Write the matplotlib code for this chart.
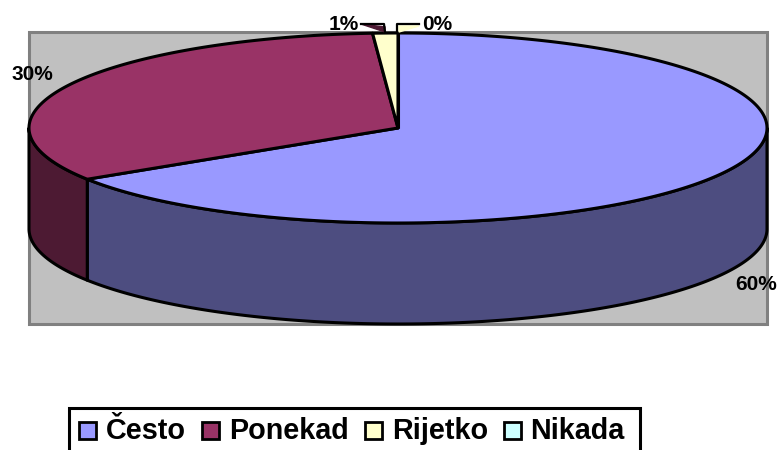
import numpy as np
import matplotlib
matplotlib.use("Agg")
import matplotlib.pyplot as plt
from matplotlib.patches import Rectangle

# Data
categories = ["Često", "Ponekad", "Rijetko", "Nikada"]
values = [60, 30, 1, 0]
labels = ["60%", "30%", "1%", "0%"]
top_colors = ["#9999FF", "#993366", "#FFFFCC", "#CCFFFF"]
side_colors = ["#4D4D80", "#4D1A33", "#808066", "#668080"]

plt.rcParams["font.family"] = ["Liberation Sans", "DejaVu Sans"]

W, H = 778, 450
fig = plt.figure(figsize=(W / 100, H / 100), dpi=100)
ax = fig.add_axes([0, 0, 1, 1])
ax.set_xlim(0, W)
ax.set_ylim(H, 0)
ax.axis("off")

# pie geometry in pixels
cx, cy, rx, ry, depth = 398, 128, 369, 95, 101


def rim(a0, a1):
    # a is clockwise from the top, in degrees
    t = np.radians(np.linspace(a0, a1, max(int(abs(a1 - a0) * 3), 2)))
    return cx + rx * np.sin(t), cy - ry * np.cos(t)


ax.add_patch(Rectangle((29, 32), 738, 292, fc="#C0C0C0", ec="#808080", lw=2.2, zorder=1))

edges = np.concatenate([[0], np.cumsum(values)]) / sum(values) * 360

# side walls, only the front half of the rim shows
for i in range(len(values)):
    a0, a1 = max(edges[i], 90), min(edges[i + 1], 270)
    if a1 <= a0:
        continue
    x, y = rim(a0, a1)
    ax.fill(np.r_[x, x[::-1]], np.r_[y, y[::-1] + depth], fc=side_colors[i],
            ec="black", lw=2.2, joinstyle="round", zorder=2)

# top slices
for i in range(len(values)):
    x, y = rim(edges[i], edges[i + 1])
    ax.fill(np.r_[cx, x], np.r_[cy, y], fc=top_colors[i], ec="black", lw=2.2,
            joinstyle="round", zorder=3)

# leader lines for the two small slices
ax.fill([361, 385, 385], [24, 27, 32], color=side_colors[1], zorder=4)
ax.plot([361, 384, 385], [24, 24, 32], color="black", lw=1.6, zorder=4)
ax.fill([399, 419, 399], [32, 26, 26], color=top_colors[2], zorder=3)
ax.plot([397, 397, 419], [32, 24, 24], color="black", lw=1.6, zorder=4)

# data labels
label_pos = [(756, 284), (32, 75), (344, 24), (437, 24)]
for s, (lx, ly) in zip(labels, label_pos):
    ax.text(lx, ly, s, fontsize=15, fontweight="bold", ha="center", va="center", zorder=5)

# legend
ax.add_patch(Rectangle((69, 408), 571, 60, fc="white", ec="black", lw=2.2, clip_on=True, zorder=2))
swatch_x = [79, 202, 365, 504]
text_x = [106, 229, 392, 530]
for name, c, sx, tx in zip(categories, top_colors, swatch_x, text_x):
    ax.add_patch(Rectangle((sx, 422), 17, 17, fc=c, ec="black", lw=2, zorder=3))
    ax.text(tx, 431, name, fontsize=20.7, fontweight="bold", ha="left", va="center", zorder=3)

fig.savefig("out.png", dpi=100)
